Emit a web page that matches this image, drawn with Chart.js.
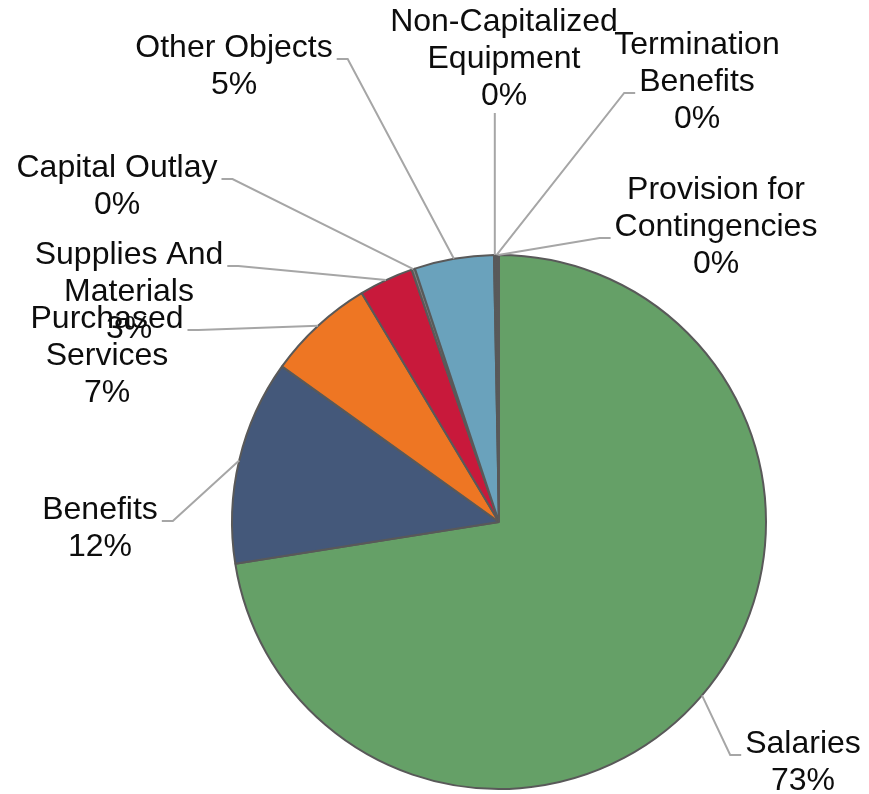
<!DOCTYPE html>
<html>
<head>
<meta charset="utf-8">
<script src="https://cdn.jsdelivr.net/npm/chart.js@4/dist/chart.umd.min.js"></script>
<style>
  html, body { margin: 0; padding: 0; background: #ffffff; }
  canvas { display: block; }
</style>
</head>
<body>
<canvas id="chart" width="869" height="794"></canvas>
<script>
// Spending by object category (share of total, percent)
const categories = [
  'Salaries',
  'Benefits',
  'Purchased Services',
  'Supplies And Materials',
  'Capital Outlay',
  'Other Objects',
  'Non-Capitalized Equipment',
  'Termination Benefits',
  'Provision for Contingencies'
];
const shares = [72.5, 12.4, 6.5, 3.3, 0.2, 4.8, 0.1, 0.1, 0.1];
const sliceColors = [
  '#65A067', '#44587A', '#EE7623', '#C8193B', '#7F7F7F',
  '#6AA2BC', '#7F7F7F', '#7F7F7F', '#7F7F7F'
];

// Where each callout sits: text centre x, first-line centre y,
// which side the leader leaves from, and the line it attaches to.
const calloutPlacement = [
  { cx: 803, cy: 744, side: 'right', line: 0 },
  { cx: 100, cy: 510, side: 'left',  line: 0 },
  { cx: 107, cy: 319, side: 'left',  line: 0 },
  { cx: 129, cy: 255, side: 'left',  line: 0 },
  { cx: 117, cy: 168, side: 'left',  line: 0 },
  { cx: 234, cy: 48,  side: 'left',  line: 0 },
  { cx: 504, cy: 22,  side: 'bottom', line: 2 },
  { cx: 697, cy: 45,  side: 'right', line: 1 },
  { cx: 716, cy: 190, side: 'right', line: 1 }
];

const FONT = '32px "Liberation Sans", Arial, sans-serif';
const LINE_H = 37;
const WRAP = 235;

function wrapText(ctx, text, maxW) {
  const words = text.split(' ');
  const lines = [];
  let cur = '';
  for (const w of words) {
    const test = cur ? cur + ' ' + w : w;
    if (cur && ctx.measureText(test).width > maxW) {
      lines.push(cur);
      cur = w;
    } else {
      cur = test;
    }
  }
  if (cur) lines.push(cur);
  return lines;
}

const calloutPlugin = {
  id: 'callouts',
  afterDatasetsDraw(chart) {
    const ctx = chart.ctx;
    const meta = chart.getDatasetMeta(0);
    const values = chart.data.datasets[0].data;
    const total = values.reduce((a, b) => a + b, 0);
    ctx.save();
    ctx.font = FONT;
    ctx.textAlign = 'center';
    ctx.textBaseline = 'middle';
    meta.data.forEach((arc, i) => {
      const p = calloutPlacement[i];
      const { x, y, startAngle, endAngle, outerRadius } =
        arc.getProps(['x', 'y', 'startAngle', 'endAngle', 'outerRadius'], true);
      const mid = (startAngle + endAngle) / 2;
      const ax = x + Math.cos(mid) * outerRadius;
      const ay = y + Math.sin(mid) * outerRadius;

      const lines = wrapText(ctx, chart.data.labels[i], WRAP);
      lines.push(Math.round(values[i] / total * 100) + '%');

      // leader line
      ctx.strokeStyle = '#A6A6A6';
      ctx.lineWidth = 2;
      ctx.beginPath();
      if (p.side === 'bottom') {
        const by = p.cy + (lines.length - 1) * LINE_H + 17;
        ctx.moveTo(ax, by);
        ctx.lineTo(ax, ay);
      } else {
        const lw = ctx.measureText(lines[p.line]).width;
        const ly = p.cy + p.line * LINE_H + 11;
        const dir = p.side === 'left' ? 1 : -1;
        const ex = p.cx + dir * (lw / 2 + 4);
        ctx.moveTo(ex, ly);
        ctx.lineTo(ex + dir * 11, ly);
        ctx.lineTo(ax, ay);
      }
      ctx.stroke();

      // text
      ctx.fillStyle = '#0D0D0D';
      lines.forEach((t, k) => ctx.fillText(t, p.cx, p.cy + k * LINE_H));
    });
    ctx.restore();
  }
};

new Chart(document.getElementById('chart'), {
  type: 'pie',
  data: {
    labels: categories,
    datasets: [{
      data: shares,
      backgroundColor: sliceColors,
      borderColor: '#595959',
      borderWidth: 2
    }]
  },
  options: {
    responsive: false,
    animation: false,
    layout: { padding: { left: 231, top: 254, right: 102, bottom: 4 } },
    plugins: {
      legend: { display: false },
      tooltip: { enabled: false }
    }
  },
  plugins: [calloutPlugin]
});
</script>
</body>
</html>
